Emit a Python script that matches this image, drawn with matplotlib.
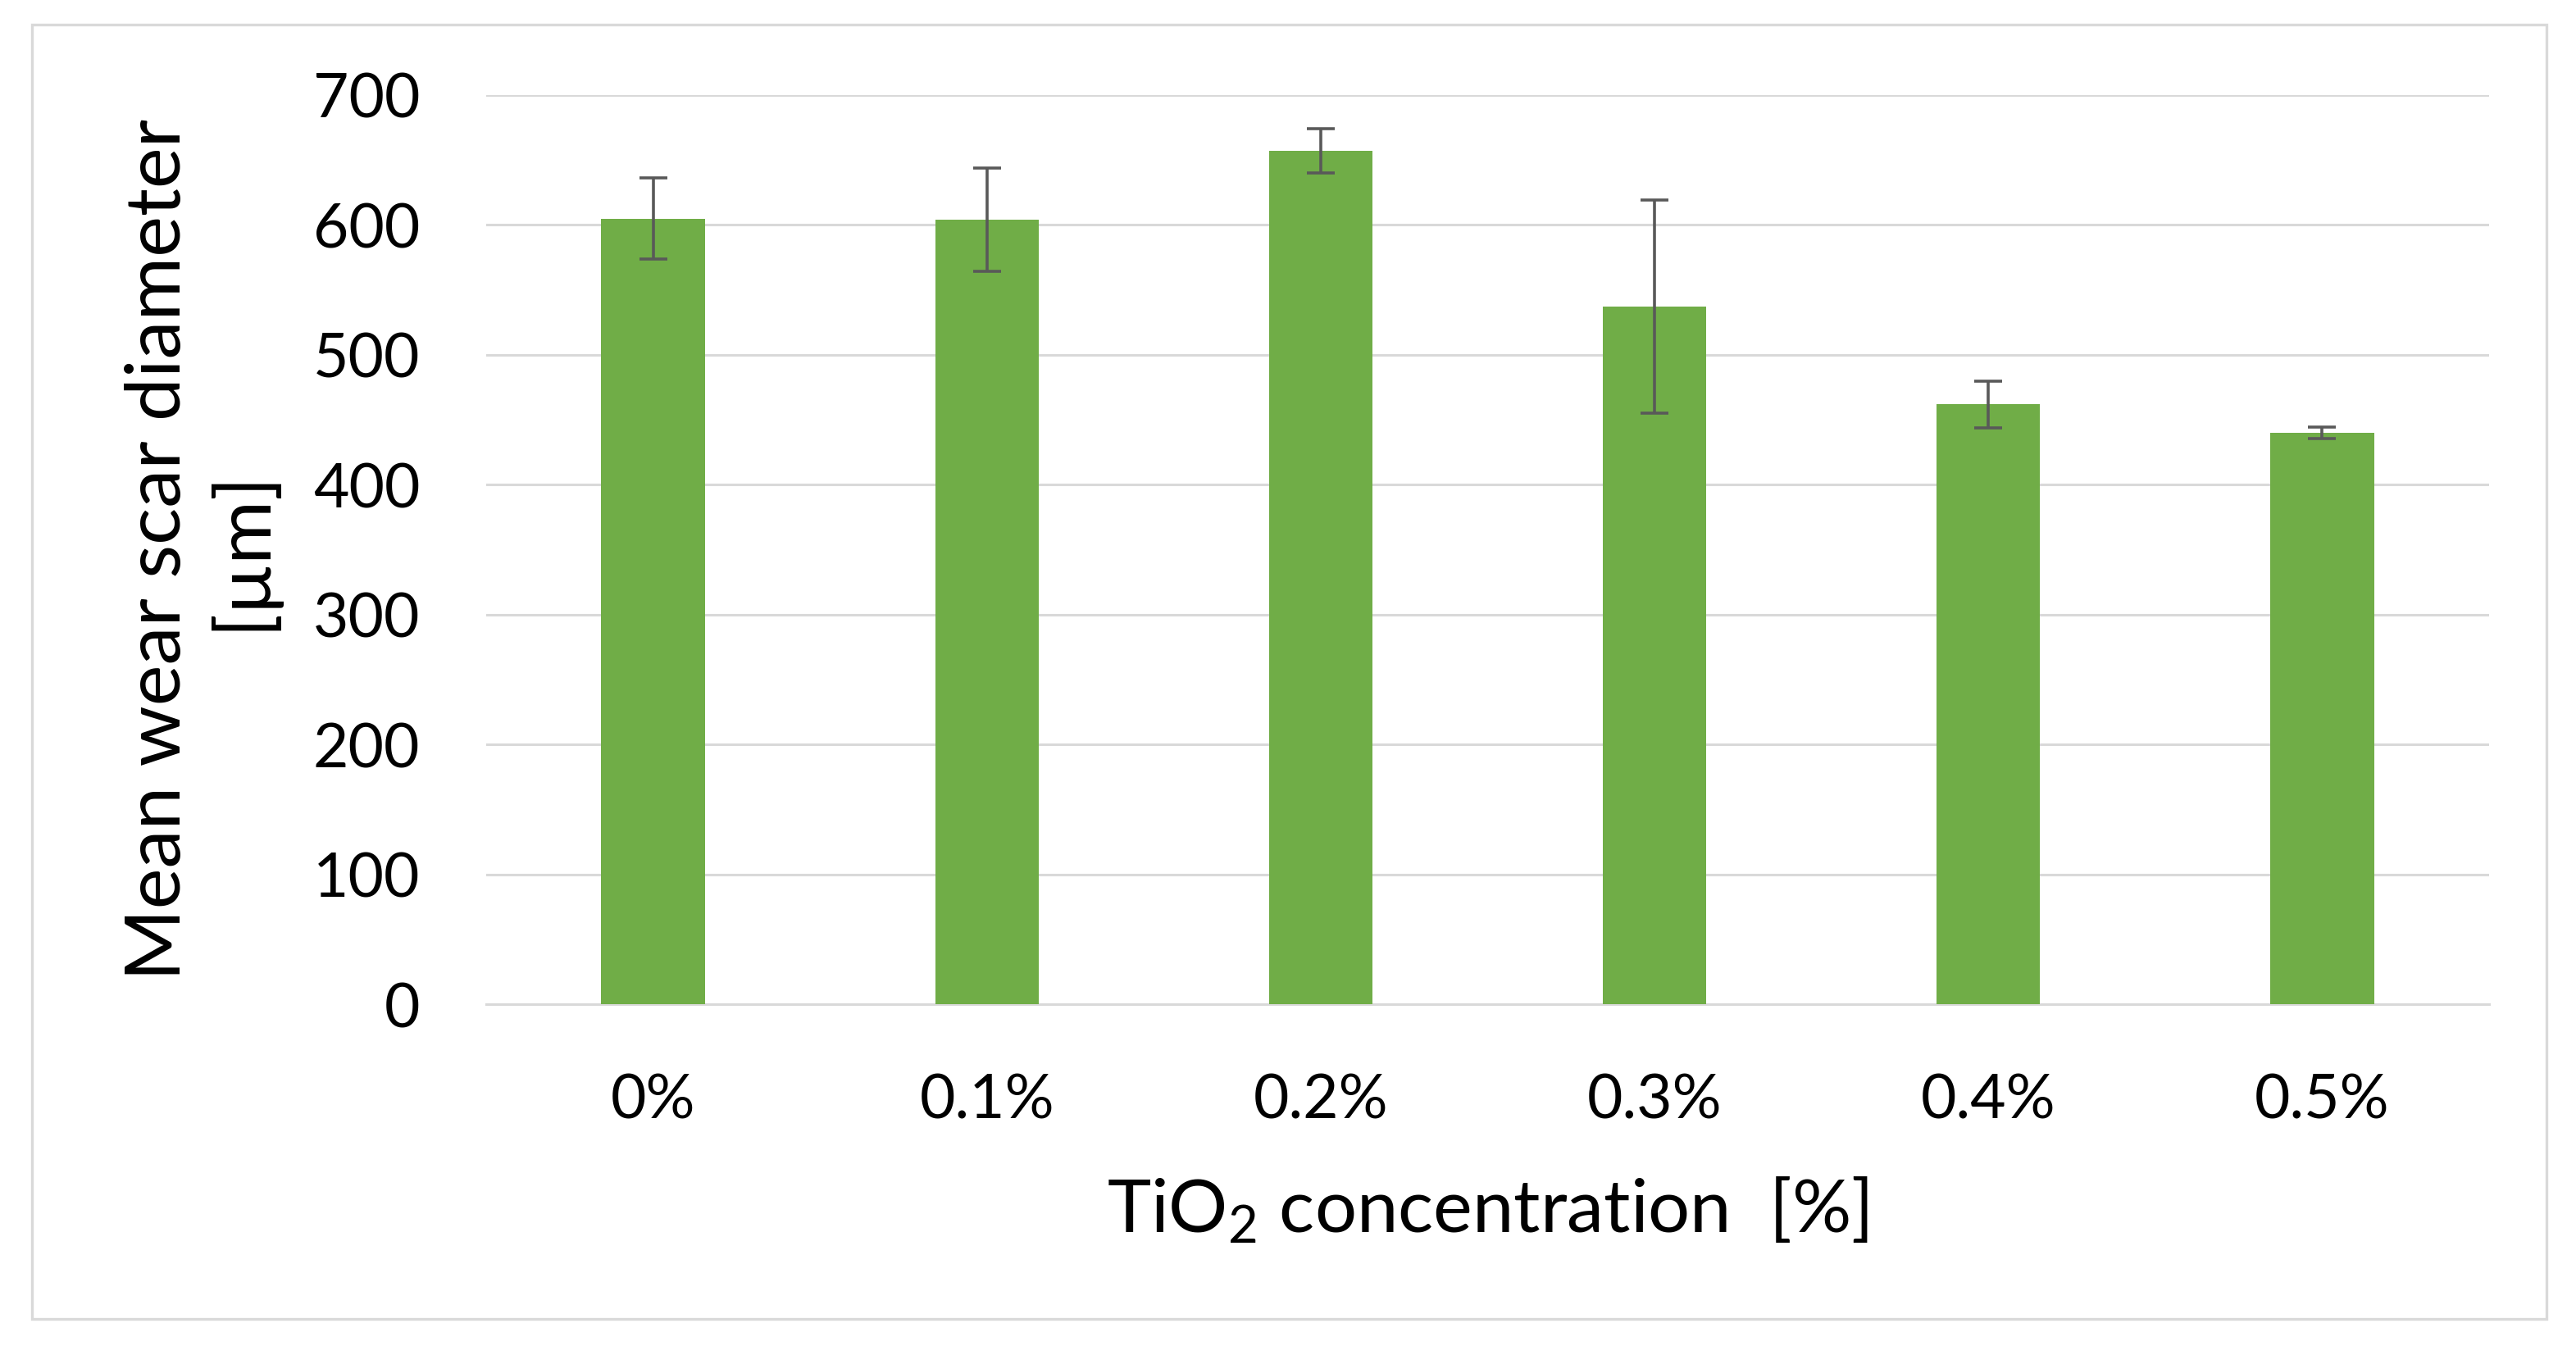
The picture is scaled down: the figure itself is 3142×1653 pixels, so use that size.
import matplotlib
matplotlib.use("Agg")
import matplotlib.pyplot as plt
from matplotlib.patches import Rectangle
import numpy as np

plt.rcParams["font.family"] = ["Lato", "DejaVu Sans"]
plt.rcParams["mathtext.fontset"] = "custom"
plt.rcParams["mathtext.rm"] = "Lato"
plt.rcParams["mathtext.default"] = "rm"

# data
concentrations = ["0%", "0.1%", "0.2%", "0.3%", "0.4%", "0.5%"]
mean_wsd = [605, 604, 657, 537, 462, 440]
wsd_err = [31, 40, 17, 82, 18, 4.5]
y_ticks = [0, 100, 200, 300, 400, 500, 600, 700]

GREEN = "#70AD47"
GRID = "#D9D9D9"
ERR = "#595959"

W, H = 3142, 1653
DPI = 200
fig = plt.figure(figsize=(W / DPI, H / DPI), dpi=DPI)

# chart-area border like the spreadsheet export
fig.patches.append(Rectangle((39 / W, 1 - 1609 / H), (3106 - 39) / W, (1609 - 30) / H,
                             transform=fig.transFigure, fill=False,
                             edgecolor=GRID, linewidth=1.2))

left, right = 593 / W, 3036 / W
bottom, top = 1 - 1225 / H, 1 - 116 / H
ax = fig.add_axes([left, bottom, right - left, top - bottom])

x = np.arange(len(concentrations))
ax.bar(x, mean_wsd, width=0.31, color=GREEN, zorder=3)
ax.errorbar(x, mean_wsd, yerr=wsd_err, fmt="none", ecolor=ERR,
            elinewidth=1.3, capsize=6, capthick=1.3, zorder=4)

ax.set_xlim(-0.5, len(concentrations) - 0.5)
ax.set_ylim(0, 700)
ax.set_yticks(y_ticks)
ax.set_xticks(x)
ax.set_xticklabels(concentrations)
ax.tick_params(axis="both", length=0, labelsize=27, colors="black")
ax.tick_params(axis="y", pad=29)
ax.tick_params(axis="x", pad=30)
ax.grid(axis="y", color=GRID, linewidth=1.1, zorder=0)
ax.set_axisbelow(True)
for s in ["top", "right", "left"]:
    ax.spines[s].set_visible(False)
ax.spines["bottom"].set_color(GRID)
ax.spines["bottom"].set_linewidth(1.1)

ax.set_xlabel("TiO$_2$ concentration  [%]", fontsize=32.5)
ax.xaxis.set_label_coords(0.5, -0.227)
ax.xaxis.label.set_va("center")
ax.set_ylabel("Mean wear scar diameter\n[µm]", fontsize=34, multialignment="center",
              linespacing=1.2)
ax.yaxis.set_label_coords(-0.1424, 0.5)
ax.yaxis.label.set_va("center")

fig.savefig("out.png", dpi=DPI, facecolor="white")
